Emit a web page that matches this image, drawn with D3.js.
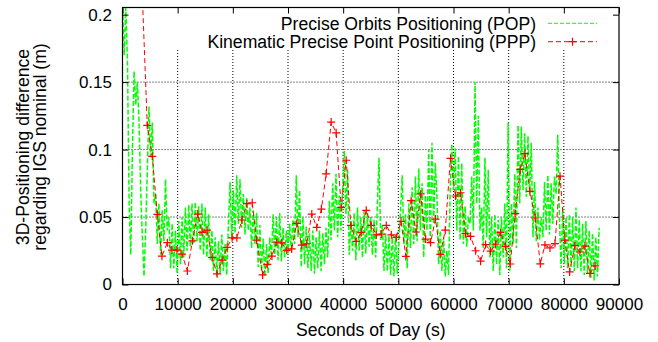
<!DOCTYPE html>
<html>
<head>
<meta charset="utf-8">
<script src="https://cdn.jsdelivr.net/npm/d3@7"></script>
<style>
  body { margin: 0; background: #fff; }
  svg text { font-family: "Liberation Sans", Arial, sans-serif; fill: #000; }
</style>
</head>
<body>
<svg id="chart" width="658" height="342"></svg>
<script>
// axis ticks
var xTicks = [0, 10000, 20000, 30000, 40000, 50000, 60000, 70000, 80000, 90000];
var yTicks = [0, 0.05, 0.1, 0.15, 0.2];
var xLabel = "Seconds of Day (s)";
var yLabelLines = ["3D-Positioning difference", "regarding IGS nominal (m)"];
var seriesNames = ["Precise Orbits Positioning (POP)", "Kinematic Precise Point Positioning (PPP)"];

// POP: one sample every popStep seconds
var popStep = 300;
var popValues = [
  0.21, 0.17, 0.205, 0.165, 0.06, 0.022, 0.1, 0.158, 0.133, 0.15,
  0.12, 0.07, 0.035, 0.006, 0.04, 0.085, 0.132, 0.095, 0.12, 0.06,
  0.067, 0.03, 0.06, 0.022, 0.055, 0.032, 0.078, 0.04, 0.05, 0.012,
  0.045, 0.012, 0.04, 0.008, 0.047, 0.015, 0.05, 0.02, 0.057, 0.025,
  0.059, 0.028, 0.06, 0.03, 0.061, 0.032, 0.058, 0.025, 0.06, 0.022,
  0.057, 0.02, 0.052, 0.018, 0.04, 0.01, 0.035, 0.006, 0.032, 0.008,
  0.037, 0.01, 0.03, 0.007, 0.045, 0.076, 0.035, 0.07, 0.038, 0.081,
  0.045, 0.078, 0.042, 0.067, 0.037, 0.064, 0.04, 0.057, 0.027, 0.055,
  0.03, 0.053, 0.013, 0.044, 0.01, 0.034, 0.006, 0.03, 0.008, 0.035,
  0.02, 0.052, 0.022, 0.05, 0.018, 0.053, 0.017, 0.042, 0.02, 0.04,
  0.023, 0.045, 0.025, 0.048, 0.03, 0.081, 0.035, 0.07, 0.013, 0.05,
  0.015, 0.043, 0.012, 0.038, 0.01, 0.04, 0.008, 0.035, 0.012, 0.04,
  0.01, 0.038, 0.015, 0.042, 0.02, 0.062, 0.033, 0.075, 0.04, 0.082,
  0.035, 0.066, 0.04, 0.07, 0.099, 0.052, 0.085, 0.022, 0.047, 0.025,
  0.053, 0.018, 0.057, 0.025, 0.05, 0.02, 0.055, 0.023, 0.053, 0.028,
  0.05, 0.022, 0.048, 0.02, 0.06, 0.094, 0.033, 0.044, 0.01, 0.038,
  0.01, 0.036, 0.007, 0.035, 0.006, 0.037, 0.008, 0.03, 0.055, 0.081,
  0.03, 0.052, 0.012, 0.06, 0.027, 0.072, 0.03, 0.08, 0.032, 0.086,
  0.04, 0.075, 0.02, 0.066, 0.04, 0.1, 0.03, 0.105, 0.045, 0.09,
  0.065, 0.015, 0.04, 0.01, 0.035, 0.006, 0.025, 0.007, 0.07, 0.104,
  0.07, 0.101, 0.04, 0.095, 0.033, 0.09, 0.03, 0.058, 0.028, 0.05,
  0.045, 0.08, 0.04, 0.15, 0.06, 0.125, 0.04, 0.057, 0.027, 0.094,
  0.035, 0.085, 0.02, 0.05, 0.01, 0.052, 0.015, 0.048, 0.007, 0.05,
  0.02, 0.06, 0.012, 0.12, 0.01, 0.06, 0.03, 0.082, 0.027, 0.118,
  0.06, 0.117, 0.07, 0.112, 0.065, 0.11, 0.067, 0.105, 0.035, 0.076,
  0.032, 0.057, 0.033, 0.05, 0.035, 0.076, 0.04, 0.081, 0.037, 0.075,
  0.045, 0.08, 0.067, 0.111, 0.05, 0.012, 0.057, 0.015, 0.05, 0.012,
  0.052, 0.013, 0.05, 0.01, 0.057, 0.012, 0.048, 0.01, 0.045, 0.007,
  0.047, 0.008, 0.04, 0.005, 0.038, 0.003, 0.035, 0.006, 0.042
];

// PPP points
var pppTimes = [
  2700, 4490, 5400, 6310, 7150, 8130, 8960, 9870, 10780, 11760,
  12670, 13640, 14420, 15330, 16240, 17150, 18050, 18960, 19870, 20730,
  21640, 22550, 23510, 24310, 25400, 26240, 27090, 27950, 28850, 29760,
  30670, 31580, 32490, 33400, 34310, 35220, 36050, 36910, 37820, 38730,
  39640, 40550, 41400, 42360, 43270, 44180, 45090, 46000, 46910, 47820,
  48730, 49640, 50490, 51360, 52310, 53220, 54050, 54950, 55850, 56730,
  57600, 58510, 59450, 60360, 61270, 62180, 63090, 64000, 64910, 65820,
  66730, 67600, 68510, 69420, 70290, 71180, 72090, 72950, 73850, 74820,
  75730, 76580, 77490, 78400, 79310, 80180, 81050, 82000, 82910, 83820,
  84730, 85670
];
var pppValues = [
  0.31, 0.118, 0.095, 0.052, 0.021, 0.031, 0.0255, 0.0255, 0.0225, 0.010,
  0.0324, 0.0522, 0.0386, 0.0403, 0.020, 0.0079, 0.018, 0.0275, 0.0346, 0.0346,
  0.0478, 0.0599, 0.0606, 0.0329, 0.0071, 0.0149, 0.021, 0.0314, 0.0309, 0.0253,
  0.0264, 0.0453, 0.0292, 0.0302, 0.0522, 0.0423, 0.0559, 0.082, 0.1204, 0.1124,
  0.0572, 0.0921, 0.0438, 0.0319, 0.0386, 0.055, 0.0438, 0.0368, 0.0374, 0.0438,
  0.0368, 0.0349, 0.0468, 0.0208, 0.0621, 0.0389, 0.0671, 0.0337, 0.0311, 0.0485,
  0.0223, 0.0403, 0.0935, 0.0656, 0.068, 0.0377, 0.0357, 0.025, 0.0173, 0.0296,
  0.0247, 0.0299, 0.0386, 0.0281, 0.0152, 0.0526, 0.0853, 0.097, 0.069, 0.0493,
  0.0153, 0.0293, 0.0271, 0.0303, 0.0803, 0.0328, 0.0093, 0.0288, 0.0241, 0.0285,
  0.0082, 0.0138
];

var margin = {top: 7.5, right: 39, bottom: 57.5, left: 122.5},
    width = 658 - margin.left - margin.right,
    height = 342 - margin.top - margin.bottom;

var svg = d3.select("#chart")
  .append("g")
    .attr("transform", "translate(" + margin.left + "," + margin.top + ")");

var x = d3.scaleLinear().domain([0, 90000]).range([0, width]);
var y = d3.scaleLinear().domain([0, 0.2053]).range([height, 0]);

// grid (dotted), vertical lines stop under the key
var gridTop = 42.5;
svg.append("g").selectAll("line")
  .data(xTicks.slice(1, -1))
  .enter().append("line")
    .attr("x1", function(d) { return x(d) }).attr("x2", function(d) { return x(d) })
    .attr("y1", gridTop).attr("y2", height)
    .attr("stroke", "#000").attr("stroke-width", 1)
    .attr("stroke-dasharray", "1,2");
svg.append("g").selectAll("line")
  .data([0.05, 0.1, 0.15])
  .enter().append("line")
    .attr("x1", 0).attr("x2", width)
    .attr("y1", function(d) { return y(d) }).attr("y2", function(d) { return y(d) })
    .attr("stroke", "#000").attr("stroke-width", 1)
    .attr("stroke-dasharray", "1,2");

svg.append("clipPath").attr("id", "clip")
  .append("rect").attr("width", width).attr("height", height);

var popData = popValues.map(function(v, i) { return {t: i * popStep, v: v} });
var pppData = pppTimes.map(function(t, i) { return {t: t, v: pppValues[i]} });

var line = d3.line()
  .x(function(d) { return x(d.t) })
  .y(function(d) { return y(d.v) });

var plot = svg.append("g").attr("clip-path", "url(#clip)");

plot.append("path")
  .datum(popData)
  .attr("d", line)
  .attr("fill", "none")
  .attr("stroke", "#00ff00")
  .attr("stroke-width", 1.5)
  .attr("stroke-dasharray", "5,2");

plot.append("path")
  .datum(pppData)
  .attr("d", line)
  .attr("fill", "none")
  .attr("stroke", "#ff0000")
  .attr("stroke-width", 1)
  .attr("stroke-dasharray", "5,3");

var cross = "M-4,0H4M0,-4V4";
plot.selectAll(".ppp")
  .data(pppData.filter(function(d) { return d.v <= 0.2053 }))
  .enter().append("path")
    .attr("class", "ppp")
    .attr("transform", function(d) { return "translate(" + x(d.t) + "," + y(d.v) + ")" })
    .attr("d", cross)
    .attr("stroke", "#ff0000")
    .attr("stroke-width", 1.2);

// axes with inward ticks, mirrored on top and right
svg.append("g")
  .attr("transform", "translate(0," + height + ")")
  .call(d3.axisBottom(x).tickValues(xTicks).tickSize(-6).tickPadding(13).tickFormat(d3.format("d")));
svg.append("g")
  .call(d3.axisLeft(y).tickValues(yTicks).tickSize(-6).tickPadding(10.5).tickFormat(function(d) { return d3.format("")(+d.toFixed(2)) }));
svg.append("g")
  .call(d3.axisTop(x).tickValues(xTicks).tickSize(-6).tickFormat(""));
svg.append("g")
  .attr("transform", "translate(" + width + ",0)")
  .call(d3.axisRight(y).tickValues(yTicks).tickSize(-6).tickFormat(""));

svg.selectAll(".domain").remove();
svg.selectAll(".tick line").attr("stroke", "#000").attr("stroke-width", 1);
svg.selectAll(".tick text").style("font-size", "17px").attr("fill", "#000");

svg.append("rect")
  .attr("width", width).attr("height", height)
  .attr("fill", "none").attr("stroke", "#000").attr("stroke-width", 1.2);

// key
var key = svg.append("g");
var keyRows = [
  {name: seriesNames[0], color: "#00ff00", dash: "4,2", mark: false, y: 23.3 - margin.top},
  {name: seriesNames[1], color: "#ff0000", dash: "5,3", mark: true, y: 41.7 - margin.top}
];
keyRows.forEach(function(r) {
  key.append("text")
    .attr("x", 536 - margin.left).attr("y", r.y + 6.2)
    .attr("text-anchor", "end")
    .style("font-size", "17.6px")
    .text(r.name);
  key.append("line")
    .attr("x1", 548 - margin.left).attr("x2", 597 - margin.left)
    .attr("y1", r.y).attr("y2", r.y)
    .attr("stroke", r.color).attr("stroke-width", 1)
    .attr("stroke-dasharray", r.dash);
  if (r.mark) {
    key.append("path")
      .attr("transform", "translate(" + (572.5 - margin.left) + "," + r.y + ")")
      .attr("d", cross).attr("stroke", r.color).attr("stroke-width", 1.2);
  }
});

// axis titles
svg.append("text")
  .attr("x", width / 2).attr("y", 336 - margin.top)
  .attr("text-anchor", "middle")
  .style("font-size", "17.6px")
  .text(xLabel);

var yTitle = svg.append("text")
  .attr("transform", "translate(" + (29 - margin.left) + "," + (147 - margin.top) + ") rotate(-90)")
  .attr("text-anchor", "middle")
  .style("font-size", "17.6px");
yTitle.append("tspan").attr("x", 0).attr("y", 0).text(yLabelLines[0]);
yTitle.append("tspan").attr("x", 0).attr("y", 16.5).text(yLabelLines[1]);
</script>
</body>
</html>
